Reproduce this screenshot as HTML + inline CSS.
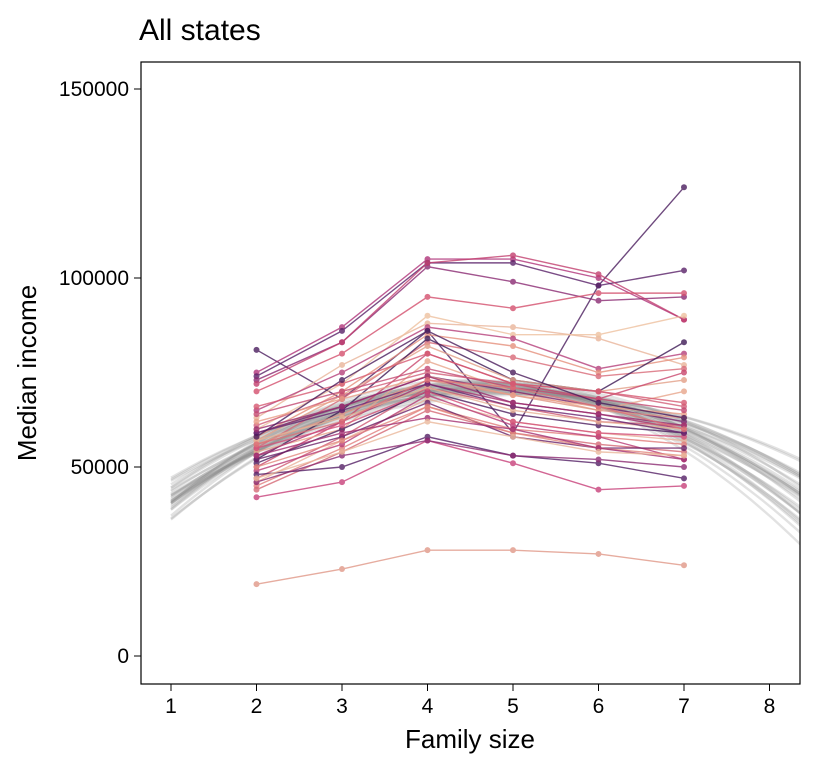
<!DOCTYPE html>
<html><head><meta charset="utf-8">
<style>
html,body{margin:0;padding:0;background:#fff;}
svg text{font-family:"Liberation Sans",Arial,sans-serif;}
</style></head>
<body>
<svg id="chart" width="816" height="768" xmlns="http://www.w3.org/2000/svg">
<defs><clipPath id="pc"><rect x="141" y="62" width="659" height="622"/></clipPath></defs>
<text x="139" y="40" font-size="30" fill="#000">All states</text>
<g id="curves" clip-path="url(#pc)"></g>
<g id="series" clip-path="url(#pc)"></g>
<rect x="141" y="62" width="659" height="622" fill="none" stroke="#000" stroke-width="1.2"/>
<g id="axes"></g>
<text x="470" y="748" font-size="26" text-anchor="middle">Family size</text>
<text transform="translate(36,373) rotate(-90)" font-size="26" text-anchor="middle">Median income</text>
</svg>
<script>
const xTicks = [1,2,3,4,5,6,7,8];
const yTicks = [0,50000,100000,150000];
const familySizes = [2,3,4,5,6,7];
// state series (thousands of dollars)
const s01=[81,68,86,59,98,124], s02=[75,87,105,105,100,89], s03=[74,86,104,104,98,102];
const s04=[73,83,103,99,94,95], s05=[72,83,104,106,101,89], s06=[70,80,95,92,96,96];
const s07=[63,77,88,87,84,77], s08=[60,72,90,85,85,90], s09=[65,75,87,84,76,80];
const s10=[58,70,85,82,75,79], s11=[55,68,83,79,74,76], s12=[52,65,84,73,70,83];
const s13=[57,69,82,73,70,73], s14=[50,62,80,72,68,75], s15=[54,60,78,70,65,70];
const s16=[61,69,75,72,70,66], s17=[59,66,74,70,66,62], s18=[56,64,73,69,65,63];
const s19=[53,62,72,67,64,60], s20=[47,58,71,66,62,61], s21=[51,60,70,64,61,59];
const s22=[46,57,68,62,59,57], s23=[45,55,66,60,58,56], s24=[44,54,65,59,56,54];
const s25=[49,56,69,61,58,52], s26=[52,58,67,58,55,55], s27=[42,46,57,51,44,45];
const s28=[48,50,58,53,51,47], s29=[46,53,57,53,52,50], s30=[19,23,28,28,27,24];
const s31=[62,68,74,69,66,64], s32=[64,70,76,71,68,65], s33=[57,63,71,65,62,60];
const s34=[55,61,70,62,59,58], s35=[59,65,72,66,63,59], s36=[50,57,66,59,55,53];
const s37=[60,66,74,67,64,61], s38=[56,62,73,71,66,60], s39=[53,59,63,60,55,52];
const s40=[47,54,62,58,54,53], s41=[66,72,80,72,70,67], s42=[58,73,86,75,67,63];
const seriesList=[s01,s02,s03,s04,s05,s06,s07,s08,s09,s10,s11,s12,s13,s14,s15,s16,s17,s18,s19,s20,s21,s22,s23,s24,s25,s26,s27,s28,s29,s30,s31,s32,s33,s34,s35,s36,s37,s38,s39,s40,s41,s42];
const seriesColors=["#4b1d5e","#b0347a","#5a2168","#8a2a72","#c23f6f","#d4506e","#e9b59a","#eec1a0","#b6407b","#e6907c","#d96a78","#3e1a56","#e3a088","#c9476e","#e8a68c","#d1607a","#7b2670","#e09585","#a8326f","#cf5a75","#4d1e5f","#eab29a","#e27e7c","#d56a76","#b83c76","#6c2369","#c8407a","#552066","#8d2c73","#e09888","#ea9f88","#c44a72","#e8b295","#d4507a","#6a2470","#e3887e","#9b2e70","#de7078","#a43072","#ebb89c","#d65a72","#4a1c5c"];
// fitted curve draws: peak value, slope, curvature (around family size 4.5)
const curvePeak=[71000,70500,72000,69500,71500,70000,72500,68500,71000,70800,69800,72200,70300,71700,69200,73000,70600,71300,69900,72800,70100,71900,68900,72400,70700,71100,69600,72100,70400,71600];
const curveSlope=[1040,190,1550,700,-320,1300,450,1900,870,-60,1130,610,1720,270,1380,-490,960,1210,20,790,1640,530,1800,-150,1120,360,1470,100,700,1980];
const curveCurv=[-2190,-1890,-2490,-1690,-2290,-1990,-2590,-1590,-2390,-2090,-1790,-2690,-1950,-2350,-1750,-2790,-2030,-2230,-1850,-2550,-1910,-2430,-1630,-2630,-2150,-2070,-1870,-2510,-1990,-2310];

const X=v=>171+(v-1)*85.5;
const Y=v=>656-v*189/50000;
const NS="http://www.w3.org/2000/svg";
const axes=document.getElementById('axes');
xTicks.forEach(t=>{
  const l=document.createElementNS(NS,'line');
  
  
  l.setAttribute('x1',X(t));l.setAttribute('x2',X(t));l.setAttribute('y1',684);l.setAttribute('y2',691);l.setAttribute('stroke','#000');
  axes.appendChild(l);
  const tx=document.createElementNS(NS,'text');
  
  
  tx.setAttribute('x',X(t));tx.setAttribute('y',713);tx.setAttribute('font-size','21');tx.setAttribute('text-anchor','middle');
  tx.textContent=t;axes.appendChild(tx);
});
yTicks.forEach(t=>{
  const l=document.createElementNS(NS,'line');
  
  
  l.setAttribute('x1',134);l.setAttribute('x2',141);l.setAttribute('y1',Y(t));l.setAttribute('y2',Y(t));l.setAttribute('stroke','#000');
  axes.appendChild(l);
  const tx=document.createElementNS(NS,'text');
  
  
  tx.setAttribute('x',129);tx.setAttribute('y',Y(t)+7);tx.setAttribute('font-size','21');tx.setAttribute('text-anchor','end');
  tx.textContent=t;axes.appendChild(tx);
});
const cg=document.getElementById('curves');
for(let i=0;i<curvePeak.length;i++){
  let d='';
  for(let k=0;k<=60;k++){
    const x=1+k*(7.4/60), dd=x-4.5;
    const v=curvePeak[i]+curveSlope[i]*dd+curveCurv[i]*dd*dd;
    d+=(k?'L':'M')+X(x).toFixed(1)+','+Y(v).toFixed(1);
  }
  const p=document.createElementNS(NS,'path');
  
  
  p.setAttribute('d',d);p.setAttribute('fill','none');p.setAttribute('stroke','#8a8a8a');p.setAttribute('stroke-opacity','0.25');p.setAttribute('stroke-width','2.4');
  cg.appendChild(p);
}
const sg=document.getElementById('series');
seriesList.forEach((s,i)=>{
  const c=seriesColors[i%seriesColors.length];
  const g=document.createElementNS(NS,'g');
  
  
  g.setAttribute('opacity','0.8');
  const pl=document.createElementNS(NS,'polyline');
  
  
  pl.setAttribute('points',s.map((v,j)=>X(familySizes[j])+','+Y(v*1000)).join(' '));
  pl.setAttribute('fill','none');pl.setAttribute('stroke',c);pl.setAttribute('stroke-width','1.4');
  g.appendChild(pl);
  s.forEach((v,j)=>{
    const ci=document.createElementNS(NS,'circle');
    
    
    ci.setAttribute('cx',X(familySizes[j]));ci.setAttribute('cy',Y(v*1000));ci.setAttribute('r','3');ci.setAttribute('fill',c);
    g.appendChild(ci);
  });
  sg.appendChild(g);
});
</script>
</body></html>
